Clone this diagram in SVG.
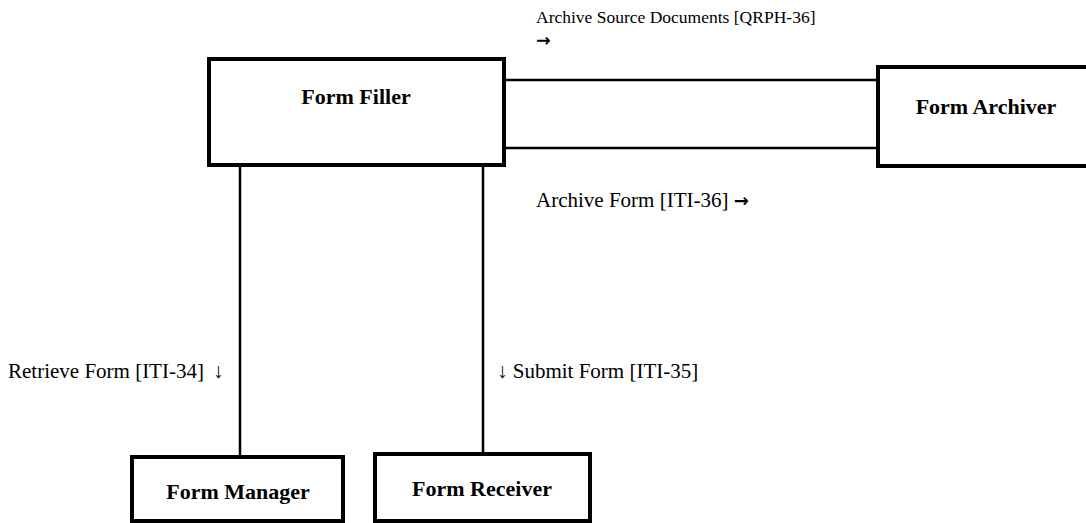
<svg xmlns="http://www.w3.org/2000/svg" width="1086" height="523" viewBox="0 0 1086 523">
<style>
.box{fill:#fff;stroke:#000;stroke-width:4}
.conn{stroke:#000;stroke-width:2.5;fill:none}
text{font-family:"Liberation Serif","Times New Roman",serif;fill:#000}
.nl{font-weight:bold;font-size:22px;text-anchor:middle}
.el{font-size:17.5px}
.big{font-size:21px}
.ar{font-family:"DejaVu Sans",sans-serif;font-weight:bold}
</style>
<rect width="1086" height="523" fill="#fff"/>
<g id="connectors">
<line class="conn" x1="506" y1="80" x2="878" y2="80"/>
<line class="conn" x1="506" y1="148" x2="878" y2="148"/>
<line class="conn" x1="240" y1="166" x2="240" y2="456"/>
<line class="conn" x1="483" y1="166" x2="483" y2="453"/>
<text class="el" x="536" y="23">Archive Source Documents [QRPH-36]</text>
<text class="el ar" x="536" y="46">→</text>
<text class="el big" x="536" y="207">Archive Form [ITI-36] <tspan class="ar" font-size="18">→</tspan></text>
<text class="el big" x="8" y="378">Retrieve Form [ITI-34]<tspan dx="9">↓</tspan></text>
<text class="el big" x="497" y="378">↓ Submit Form [ITI-35]</text>
</g>
<g id="form-filler">
<rect class="box" x="209" y="59" width="295" height="106"/>
<text class="nl" x="356" y="104">Form Filler</text>
</g>
<g id="form-archiver">
<rect class="box" x="878" y="67" width="220" height="99"/>
<text class="nl" x="986" y="114">Form Archiver</text>
</g>
<g id="form-manager">
<rect class="box" x="132" y="457" width="211" height="64"/>
<text class="nl" x="238" y="499">Form Manager</text>
</g>
<g id="form-receiver">
<rect class="box" x="375" y="454" width="215" height="67"/>
<text class="nl" x="482" y="496">Form Receiver</text>
</g>
</svg>
